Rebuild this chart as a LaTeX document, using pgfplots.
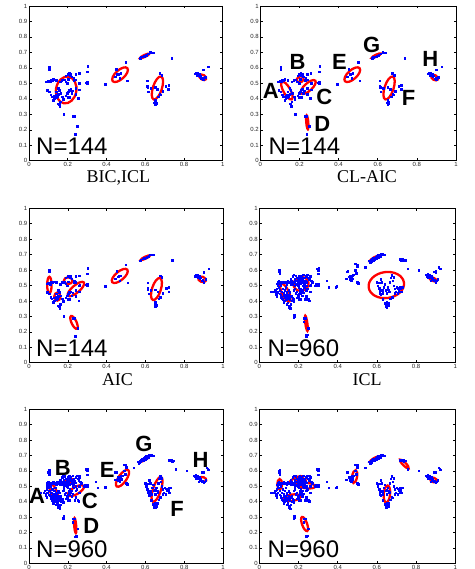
\documentclass[border=0pt]{standalone}
\usepackage{fontspec}
\setmainfont{Liberation Serif}
\newfontfamily\arial{Liberation Sans}
\usepackage{pgfplots}
\usepackage{pgfplotstable}
\pgfplotsset{compat=1.18}

\pgfplotstableread{
x y
0.103 0.603
0.103 0.591
0.090 0.511
0.100 0.515
0.112 0.522
0.120 0.517
0.124 0.526
0.095 0.457
0.103 0.446
0.112 0.425
0.117 0.414
0.124 0.392
0.129 0.403
0.138 0.425
0.146 0.414
0.141 0.446
0.151 0.468
0.155 0.457
0.164 0.435
0.172 0.414
0.176 0.397
0.158 0.353
0.155 0.366
0.181 0.522
0.189 0.511
0.198 0.500
0.203 0.526
0.207 0.565
0.210 0.554
0.220 0.543
0.203 0.446
0.207 0.457
0.215 0.461
0.224 0.453
0.220 0.435
0.198 0.435
0.232 0.532
0.241 0.522
0.258 0.565
0.262 0.504
0.255 0.403
0.296 0.504
0.301 0.575
0.303 0.612
0.179 0.302
0.229 0.289
0.236 0.289
0.250 0.224
0.238 0.172
0.170 0.520
0.160 0.510
0.140 0.520
0.120 0.520
0.110 0.510
0.130 0.420
0.150 0.430
0.190 0.550
0.200 0.560
0.215 0.560
0.230 0.520
0.240 0.470
0.260 0.460
0.240 0.430
0.210 0.410
0.190 0.420
0.140 0.410
0.160 0.380
0.150 0.370
0.200 0.410
0.300 0.500
0.300 0.510
0.260 0.500
0.240 0.560
0.394 0.494
0.451 0.591
0.456 0.558
0.468 0.532
0.499 0.636
0.508 0.517
0.473 0.565
0.444 0.543
0.463 0.560
0.573 0.662
0.577 0.668
0.585 0.672
0.594 0.677
0.606 0.683
0.616 0.690
0.625 0.700
0.633 0.698
0.640 0.698
0.737 0.664
0.611 0.517
0.611 0.483
0.616 0.446
0.613 0.474
0.651 0.474
0.663 0.461
0.675 0.565
0.685 0.554
0.680 0.425
0.668 0.414
0.654 0.381
0.651 0.392
0.657 0.371
0.647 0.375
0.651 0.365
0.719 0.461
0.706 0.483
0.628 0.468
0.690 0.450
0.720 0.489
0.676 0.429
0.862 0.569
0.857 0.561
0.869 0.554
0.879 0.561
0.900 0.587
0.926 0.608
0.880 0.545
0.890 0.530
0.900 0.522
0.910 0.540
0.870 0.570
0.895 0.535
0.885 0.550
}\dsmall

\pgfplotstableread{
x y
0.075 0.46
0.080 0.47
0.085 0.45
0.090 0.48
0.095 0.50
0.100 0.49
0.105 0.47
0.110 0.44
0.115 0.46
0.120 0.48
0.125 0.45
0.130 0.43
0.135 0.44
0.140 0.46
0.145 0.42
0.150 0.44
0.155 0.41
0.160 0.43
0.165 0.40
0.170 0.42
0.120 0.41
0.125 0.39
0.130 0.40
0.140 0.38
0.145 0.39
0.150 0.36
0.155 0.37
0.130 0.47
0.135 0.49
0.110 0.50
0.105 0.52
0.100 0.53
0.095 0.52
0.120 0.52
0.130 0.52
0.140 0.51
0.145 0.53
0.150 0.52
0.160 0.54
0.100 0.59
0.102 0.60
0.105 0.58
0.090 0.43
0.085 0.44
0.115 0.42
0.140 0.445
0.125 0.435
0.135 0.415
0.060 0.46
0.160 0.52
0.165 0.53
0.170 0.51
0.175 0.52
0.180 0.50
0.185 0.53
0.190 0.55
0.195 0.54
0.200 0.52
0.205 0.53
0.210 0.55
0.215 0.56
0.220 0.54
0.225 0.57
0.230 0.55
0.235 0.53
0.240 0.56
0.245 0.57
0.250 0.55
0.255 0.54
0.260 0.56
0.265 0.53
0.270 0.52
0.200 0.49
0.205 0.47
0.210 0.48
0.215 0.46
0.220 0.47
0.190 0.46
0.185 0.45
0.195 0.44
0.200 0.43
0.210 0.45
0.225 0.50
0.230 0.49
0.180 0.48
0.175 0.47
0.170 0.56
0.175 0.57
0.185 0.565
0.235 0.41
0.250 0.41
0.190 0.51
0.200 0.505
0.210 0.515
0.220 0.52
0.230 0.51
0.240 0.50
0.245 0.48
0.215 0.535
0.205 0.545
0.195 0.525
0.185 0.505
0.180 0.54
0.285 0.50
0.290 0.51
0.295 0.505
0.300 0.60
0.295 0.61
0.345 0.53
0.355 0.49
0.390 0.49
0.445 0.59
0.460 0.54
0.490 0.64
0.495 0.58
0.500 0.52
0.505 0.515
0.540 0.62
0.565 0.65
0.470 0.55
0.480 0.57
0.475 0.545
0.490 0.60
0.500 0.625
0.560 0.66
0.565 0.655
0.570 0.665
0.575 0.67
0.580 0.665
0.585 0.675
0.590 0.68
0.595 0.685
0.600 0.69
0.605 0.695
0.610 0.69
0.615 0.70
0.620 0.705
0.625 0.70
0.630 0.705
0.635 0.70
0.640 0.70
0.580 0.68
0.590 0.67
0.600 0.675
0.570 0.655
0.720 0.67
0.725 0.665
0.730 0.67
0.735 0.668
0.740 0.665
0.745 0.665
0.757 0.61
0.813 0.60
0.600 0.52
0.605 0.50
0.610 0.48
0.615 0.46
0.620 0.44
0.625 0.47
0.630 0.45
0.635 0.49
0.640 0.51
0.645 0.47
0.650 0.45
0.655 0.49
0.660 0.47
0.665 0.52
0.670 0.55
0.675 0.57
0.680 0.53
0.685 0.50
0.690 0.48
0.695 0.46
0.700 0.49
0.705 0.45
0.710 0.47
0.720 0.48
0.725 0.46
0.730 0.49
0.640 0.385
0.645 0.375
0.650 0.38
0.655 0.37
0.645 0.365
0.650 0.36
0.655 0.385
0.660 0.39
0.630 0.41
0.620 0.54
0.625 0.52
0.850 0.57
0.855 0.565
0.860 0.575
0.865 0.56
0.870 0.555
0.875 0.55
0.880 0.545
0.885 0.54
0.890 0.535
0.895 0.53
0.900 0.525
0.905 0.53
0.910 0.54
0.880 0.56
0.870 0.57
0.915 0.62
0.920 0.61
0.890 0.59
0.900 0.595
0.860 0.55
0.875 0.53
0.179 0.309
0.175 0.292
0.178 0.300
0.226 0.266
0.240 0.179
0.243 0.175
0.245 0.180
}\dextra

\newcommand{\ellp}[5]{\draw[draw=red, line width=2.3pt, rotate around={#3:(axis cs:#1,#2)}] (axis cs:#1,#2) ellipse [x radius=#4pt, y radius=#5pt];}
\newcommand{\lab}[3]{\node[font=\arial\bfseries\fontsize{22}{22}\selectfont, inner sep=0pt, anchor=center] at (axis cs:#1,#2) {#3};}

\pgfplotsset{
  panel/.style={
    scale only axis, anchor=south west,
    xmin=0, xmax=1, ymin=0, ymax=1,
    xtick={0,0.2,0.4,0.6,0.8,1},
    xticklabels={0,0.2,0.4,0.6,0.8,1},
    ytick={0,0.1,0.2,0.3,0.4,0.5,0.6,0.7,0.8,0.9,1},
    yticklabels={0,0.1,0.2,0.3,0.4,0.5,0.6,0.7,0.8,0.9,1},
    tick align=inside, major tick length=2.5pt,
    tick style={black, line width=0.5pt},
    axis line style={line width=0.8pt},
    ticklabel style={font=\arial\fontsize{6}{6.5}\selectfont, text=black!85, inner sep=1.5pt},
    clip=false,
  },
  pts/.style={only marks, mark=square*, mark size=0.75pt, color=blue, mark options={draw=blue, fill=blue}},
}

\begin{document}
\begin{tikzpicture}
\useasboundingbox (0pt,0pt) rectangle (474pt,569pt);

% Panel 1: BIC,ICL
\begin{axis}[panel, at={(29pt,408.3pt)}, width=193.7pt, height=154.7pt]
\addplot[pts] table {\dsmall};
\ellp{0.192}{0.457}{80}{13.5}{10.2}
\ellp{0.470}{0.556}{42}{9.8}{4.5}
\ellp{0.663}{0.470}{72}{12}{4.5}
\ellp{0.597}{0.677}{25}{5}{1}
\ellp{0.897}{0.539}{-30}{3.7}{2.4}
\node[font=\arial\fontsize{24}{24}\selectfont, inner sep=0pt, anchor=base west] at (axis cs:0.036,0.043) {N=144};
\end{axis}

% Panel 2: CL-AIC
\begin{axis}[panel, at={(260.3pt,408.3pt)}, width=195.7pt, height=154.7pt]
\addplot[pts] table {\dsmall};
\ellp{0.136}{0.453}{-61}{10}{3.5}
\ellp{0.204}{0.526}{30}{3.7}{2.9}
\ellp{0.245}{0.476}{42}{9.5}{3.8}
\ellp{0.240}{0.248}{95}{7}{1}
\ellp{0.470}{0.556}{42}{9.8}{4.5}
\ellp{0.658}{0.470}{72}{12}{4.5}
\ellp{0.593}{0.679}{25}{5}{1}
\ellp{0.891}{0.537}{-30}{3.7}{2.4}
\node[font=\arial\fontsize{24}{24}\selectfont, inner sep=0pt, anchor=base west] at (axis cs:0.042,0.043) {N=144};
\lab{0.054}{0.454}{A}
\lab{0.190}{0.637}{B}
\lab{0.327}{0.410}{C}
\lab{0.317}{0.239}{D}
\lab{0.405}{0.637}{E}
\lab{0.758}{0.407}{F}
\lab{0.569}{0.746}{G}
\lab{0.869}{0.657}{H}
\end{axis}

% Panel 3: AIC
\begin{axis}[panel, at={(29pt,206.3pt)}, width=194pt, height=154.4pt]
\addplot[pts] table {\dsmall};
\ellp{0.105}{0.503}{90}{8.3}{2.2}
\ellp{0.146}{0.428}{90}{4}{3.1}
\ellp{0.202}{0.531}{0}{4.3}{3.4}
\ellp{0.242}{0.477}{40}{10.3}{3.7}
\ellp{0.232}{0.261}{115}{7}{2.5}
\ellp{0.468}{0.562}{40}{9.8}{4.3}
\ellp{0.600}{0.680}{25}{5}{1}
\ellp{0.657}{0.477}{72}{11.5}{4.4}
\ellp{0.892}{0.540}{-20}{4}{2.6}
\node[font=\arial\fontsize{24}{24}\selectfont, inner sep=0pt, anchor=base west] at (axis cs:0.036,0.043) {N=144};
\end{axis}

% Panel 4: ICL
\begin{axis}[panel, at={(259.3pt,206.3pt)}, width=196pt, height=154.4pt]
\addplot[pts] table {\dsmall};
\addplot[pts] table {\dextra};
\ellp{0.133}{0.454}{115}{9.7}{3.5}
\ellp{0.213}{0.510}{20}{7.6}{6.8}
\ellp{0.240}{0.255}{98}{7.7}{1}
\ellp{0.648}{0.503}{8}{17.8}{13}
\ellp{0.587}{0.676}{30}{5}{1}
\ellp{0.886}{0.540}{-25}{4}{1.6}
\node[font=\arial\fontsize{24}{24}\selectfont, inner sep=0pt, anchor=base west] at (axis cs:0.042,0.043) {N=960};
\end{axis}

% Panel 5
\begin{axis}[panel, at={(29pt,5.7pt)}, width=194pt, height=154pt]
\addplot[pts] table {\dsmall};
\addplot[pts] table {\dextra};
\ellp{0.129}{0.455}{110}{9.5}{3.2}
\ellp{0.202}{0.530}{20}{5.5}{2.6}
\ellp{0.242}{0.472}{30}{9}{3.6}
\ellp{0.238}{0.245}{95}{7.5}{1}
\ellp{0.482}{0.552}{55}{10}{4}
\ellp{0.660}{0.480}{72}{13}{4}
\ellp{0.597}{0.677}{30}{5}{1}
\ellp{0.897}{0.545}{-20}{3.4}{2.2}
\node[font=\arial\fontsize{24}{24}\selectfont, inner sep=0pt, anchor=base west] at (axis cs:0.036,0.039) {N=960};
\lab{0.042}{0.436}{A}
\lab{0.174}{0.619}{B}
\lab{0.314}{0.403}{C}
\lab{0.321}{0.241}{D}
\lab{0.403}{0.609}{E}
\lab{0.763}{0.355}{F}
\lab{0.592}{0.776}{G}
\lab{0.884}{0.669}{H}
\end{axis}

% Panel 6
\begin{axis}[panel, at={(259.3pt,5.7pt)}, width=196pt, height=154pt]
\addplot[pts] table {\dsmall};
\addplot[pts] table {\dextra};
\ellp{0.104}{0.513}{90}{5.2}{2.4}
\ellp{0.167}{0.426}{8}{8.6}{3.2}
\ellp{0.189}{0.541}{25}{7.5}{2.5}
\ellp{0.243}{0.504}{-5}{8.3}{2.7}
\ellp{0.210}{0.530}{15}{5.5}{2.2}
\ellp{0.231}{0.255}{110}{7.5}{2.5}
\ellp{0.486}{0.563}{80}{6.5}{2.5}
\ellp{0.587}{0.677}{30}{5}{1}
\ellp{0.740}{0.645}{-45}{6}{1.6}
\ellp{0.651}{0.450}{85}{8.5}{3.2}
\ellp{0.889}{0.541}{-20}{3.5}{2.2}
\node[font=\arial\fontsize{24}{24}\selectfont, inner sep=0pt, anchor=base west] at (axis cs:0.042,0.039) {N=960};
\end{axis}

% axis captions
\node[anchor=base, font=\fontsize{18}{18}\selectfont, inner sep=0pt] at (118.3pt,386pt) {BIC,ICL};
\node[anchor=base, font=\fontsize{18}{18}\selectfont, inner sep=0pt] at (367pt,386pt) {CL-AIC};
\node[anchor=base, font=\fontsize{18}{18}\selectfont, inner sep=0pt] at (117.5pt,183pt) {AIC};
\node[anchor=base, font=\fontsize{18}{18}\selectfont, inner sep=0pt] at (367pt,183pt) {ICL};
\end{tikzpicture}
\end{document}
